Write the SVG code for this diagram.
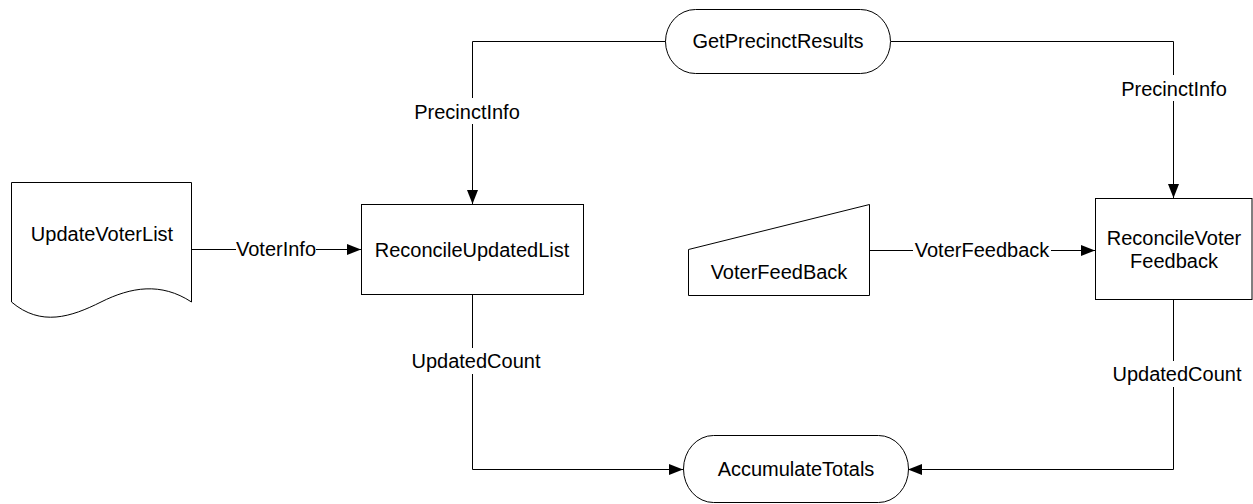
<svg xmlns="http://www.w3.org/2000/svg" width="1253" height="504" viewBox="0 0 1253 504">
<style>
.shape{fill:#fff;stroke:#000;stroke-width:1}
.line{fill:none;stroke:#000;stroke-width:1}
text{font-family:"Liberation Sans",Arial,sans-serif;font-size:20px;fill:#000;text-anchor:middle}
.bg{fill:#fff;stroke:none}
</style>
<defs>
<marker id="arr" markerUnits="userSpaceOnUse" markerWidth="14" markerHeight="12" refX="14" refY="6" orient="auto">
<path d="M0,0.5 L14,6 L0,11.5 z" fill="#000"/>
</marker>
</defs>
<g id="connectors">
<path class="line" d="M666,41.5 H472.5 V204" marker-end="url(#arr)"/>
<path class="line" d="M891,41.5 H1173.5 V198" marker-end="url(#arr)"/>
<path class="line" d="M191,249.5 H361" marker-end="url(#arr)"/>
<path class="line" d="M869,250.5 H1095" marker-end="url(#arr)"/>
<path class="line" d="M472.5,294 V469.5 H683" marker-end="url(#arr)"/>
<path class="line" d="M1173.5,299 V469.5 H908" marker-end="url(#arr)"/>
<rect class="bg" x="412" y="98" width="110" height="26"/>
<text x="467" y="118.5">PrecinctInfo</text>
<rect class="bg" x="1119" y="75" width="110" height="26"/>
<text x="1174" y="95.5">PrecinctInfo</text>
<rect class="bg" x="236" y="238" width="80" height="24"/>
<text x="276" y="256">VoterInfo</text>
<rect class="bg" x="913" y="239" width="138" height="24"/>
<text x="982" y="257">VoterFeedback</text>
<rect class="bg" x="411" y="348" width="130" height="26"/>
<text x="476" y="367.5">UpdatedCount</text>
<rect class="bg" x="1112" y="361" width="130" height="26"/>
<text x="1177" y="380.5">UpdatedCount</text>
</g>
<g id="GetPrecinctResults">
<rect class="shape" x="665.5" y="9.5" width="225" height="64" rx="30" ry="32"/>
<text x="778" y="48">GetPrecinctResults</text>
</g>
<g id="UpdateVoterList">
<path class="shape" d="M11.5,182.5 H191.5 V302 C161,282 131,287 101,302 C71,317 41,327 11.5,302 Z"/>
<text x="102" y="241">UpdateVoterList</text>
</g>
<g id="ReconcileUpdatedList">
<rect class="shape" x="361.5" y="204.5" width="222" height="90"/>
<text x="472" y="256.5">ReconcileUpdatedList</text>
</g>
<g id="VoterFeedBack">
<path class="shape" d="M688.5,249.5 L869.5,204.5 V295.5 H688.5 Z"/>
<text x="779" y="278.5">VoterFeedBack</text>
</g>
<g id="ReconcileVoterFeedback">
<rect class="shape" x="1095.5" y="198.5" width="156.5" height="101"/>
<text x="1174" y="245">ReconcileVoter</text>
<text x="1174" y="268">Feedback</text>
</g>
<g id="AccumulateTotals">
<rect class="shape" x="683.5" y="435.5" width="225" height="67" rx="30" ry="33.5"/>
<text x="796" y="476">AccumulateTotals</text>
</g>
</svg>
